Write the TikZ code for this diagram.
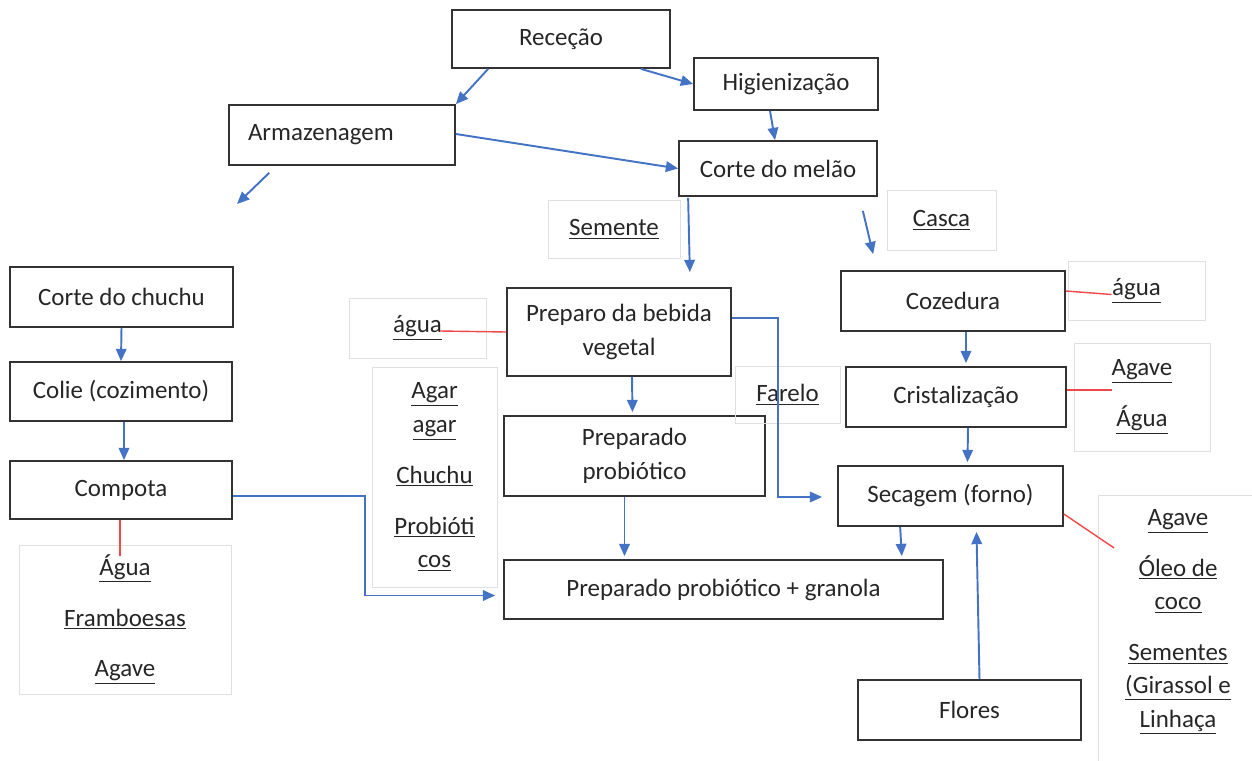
\documentclass[tikz,border=0pt]{standalone}
\usepackage{fontspec}
\setmainfont{Carlito}
\usetikzlibrary{arrows.meta,calc}
\definecolor{flowblue}{HTML}{4472C4}
\definecolor{tiered}{HTML}{F0474B}
\begin{document}
\begin{tikzpicture}[x=0.02cm, y=-0.02cm, font=\fontsize{14.2}{19}\selectfont, >={Triangle[length=7pt,width=6pt]}]
        \tikzset{box/.style={draw=black!80, line width=1pt, align=center, text=black!85},
                 lbl/.style={draw=black!12, line width=0.5pt, align=center, text=black!85},
                 flow/.style={->, draw=flowblue, line width=1.1pt},
                 tie/.style={draw=tiered, line width=0.8pt}}
        \useasboundingbox (0,0) rectangle (1252,761);
        % main line
        \node[box, minimum width=4.36cm, minimum height=1.16cm] (rec) at (561,39) {Receção};
        \node[box, minimum width=3.68cm, minimum height=1.04cm] (hig) at (786,84) {Higienização};
        \node[box, text width=3.76cm, inner xsep=0.38cm, align=left, minimum height=1.2cm] (arm) at (342,135) {Armazenagem};
        \node[box, minimum width=3.96cm, minimum height=1.1cm] (cmel) at (778,168.5) {Corte do melão};
        \node[lbl, minimum width=2.64cm, minimum height=1.16cm] (sem) at (614,229) {\underline{Semente}};
        \node[lbl, minimum width=2.18cm, minimum height=1.2cm] (cas) at (941.5,220) {\underline{Casca}};
        % chuchu
        \node[box, minimum width=4.46cm, minimum height=1.2cm] (cchu) at (121.5,297) {Corte do chuchu};
        \node[box, minimum width=4.44cm, minimum height=1.18cm] (colie) at (121,391.5) {Colie (cozimento)};
        \node[box, minimum width=4.44cm, minimum height=1.16cm] (comp) at (121,490) {Compota};
        \node[lbl, minimum width=4.24cm, minimum height=2.98cm] (ingc) at (125,619.5) {\underline{Água}\\[10pt]\underline{Framboesas}\\[10pt]\underline{Agave}};
        % bebida
        \node[lbl, minimum width=2.74cm, minimum height=1.2cm] (agl) at (417.5,328) {\underline{água}};
        \node[box, minimum width=4.48cm, minimum height=1.76cm] (prep) at (619,332) {Preparo da bebida\\vegetal};
        \node[lbl, minimum width=2.5cm, minimum height=4.4cm] (agar) at (434.5,477) {\underline{Agar}\\\underline{agar}\\[10pt]\underline{Chuchu}\\[10pt]\underline{Probióti}\\\underline{cos}};
        \node[box, minimum width=5.22cm, minimum height=1.6cm] (pprob) at (634.5,456) {Preparado\\probiótico};
        \node[lbl, minimum width=2.1cm, minimum height=1.14cm] (far) at (787.5,394.5) {\underline{Farelo}};
        \node[box, minimum width=8.78cm, minimum height=1.18cm] (gran) at (723.5,589.5) {Preparado probiótico + granola};
        % casca
        \node[box, minimum width=4.48cm, minimum height=1.2cm] (coz) at (953,301) {Cozedura};
        \node[lbl, minimum width=2.74cm, minimum height=1.18cm] (agr) at (1136.5,290.5) {\underline{água}};
        \node[box, minimum width=4.4cm, minimum height=1.2cm] (cris) at (956,397) {Cristalização};
        \node[lbl, minimum width=2.72cm, minimum height=2.16cm] (ingr) at (1142,397) {\underline{Agave}\\[10pt]\underline{Água}};
        \node[box, minimum width=4.5cm, minimum height=1.2cm] (sec) at (950.5,496) {Secagem (forno)};
        \node[box, minimum width=4.46cm, minimum height=1.2cm] (flo) at (969.5,710) {Flores};
        \draw[draw=black!12, line width=0.5pt] (1098,775) |- (1265,495);
        \node[align=center, text=black!85] (ingf) at (1178,622) {\underline{Agave}\\[10pt]\underline{Óleo de}\\\underline{coco}\\[10pt]\underline{Sementes}\\\underline{(Girassol e}\\\underline{Linhaça}};
        % arrows
        \coordinate (armend) at (237,204);
        \coordinate (agtie) at (440,331);
        \draw[flow] ($(rec.south west)+(37,0)$) -- (arm.north east);
        \draw[flow] ($(rec.south east)+(-30,0)$) -- (hig.west);
        \draw[flow] ($(hig.south)+(-16,0)$) -- ($(cmel.north)+(-3,0)$);
        \draw[flow] ($(arm.east)+(0,-1)$) -- (cmel.west);
        \draw[flow] ($(arm.south west)+(41,7)$) -- (armend);
        \draw[flow] ($(cmel.south west)+(10,1)$) -- ($(prep.north east)+(-42,-15)$);
        \draw[flow] ($(cmel.south east)+(-15,14)$) -- ($(coz.north west)+(33,-16)$);
        \draw[flow] (cchu.south) -- (colie.north);
        \draw[flow] ($(colie.south)+(3,0)$) -- ($(comp.north)+(3,0)$);
        \draw[flow] ($(comp.east)+(0,6)$) -- ++(132,0) |- ($(gran.west)+(-8,6)$);
        \draw[flow] ($(prep.east)+(0,-14)$) -- ++(46,0) |- ($(sec.west)+(-15,1)$);
        \draw[flow] ($(prep.south)+(13,0)$) -- ($(pprob.north)+(-2,-3)$);
        \draw[flow] ($(pprob.south)+(-10,0)$) coordinate (pp) -- ($(pp |- gran.north)+(0,-3)$);
        \draw[flow] ($(coz.south)+(13,0)$) -- ($(cris.north)+(10,-3)$);
        \draw[flow] ($(cris.south)+(12,0)$) -- ($(sec.north)+(17,-3)$);
        \draw[flow] ($(sec.south west)+(63,0)$) -- ($(gran.north east)+(-42,-3)$);
        \draw[flow] ($(flo.north)+(10,0)$) -- ($(sec.south)+(26,5)$);
        % ties
        \draw[tie] ($(comp.south)+(-1,0)$) -- ($(ingc.north)+(-5,11)$);
        \draw[tie] (agtie) -- (prep.west);
        \draw[tie] ($(coz.east)+(0,-10)$) -- ($(agr.west)+(44,4)$);
        \draw[tie] ($(cris.east)+(0,-7)$) -- ($(ingr.west)+(38,-7)$);
        \draw[tie] ($(sec.east)+(0,18)$) -- ($(ingf.north west)+(-5,45)$);
\end{tikzpicture}
\end{document}
